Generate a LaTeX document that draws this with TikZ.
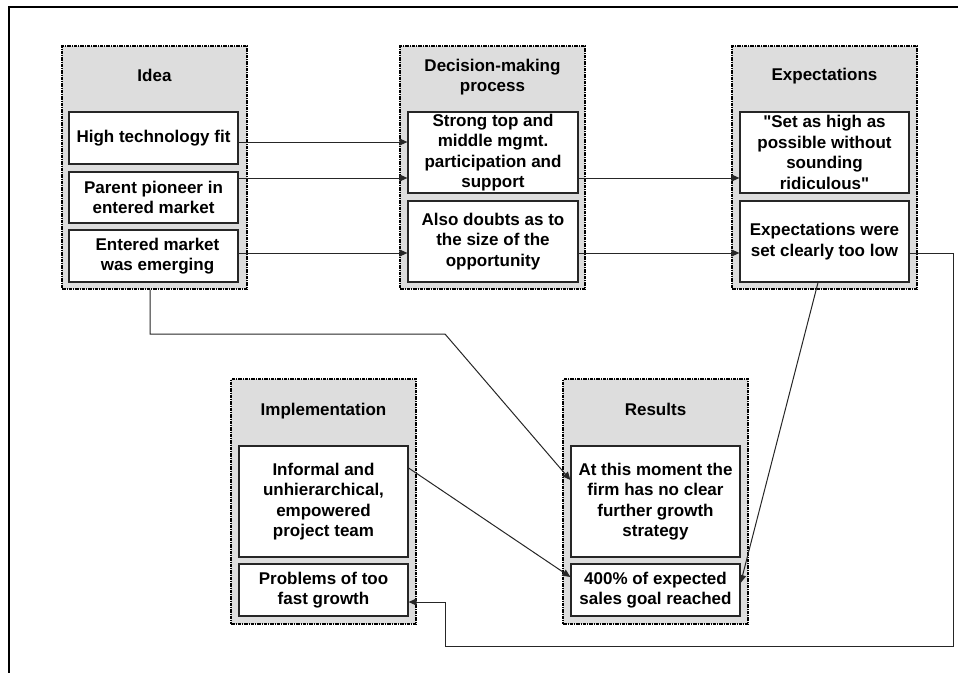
\documentclass[tikz,border=0pt]{standalone}
\usepackage{fontspec}
\setmainfont{Liberation Sans}[Ligatures=TeXOff]
\usetikzlibrary{arrows.meta}
\definecolor{panelgray}{HTML}{DDDDDD}
\definecolor{edgegray}{HTML}{262626}
\begin{document}
\begin{tikzpicture}[x=1pt,y=-1pt,
  panel/.style={draw=black, fill=panelgray, line width=1.3pt,
    dash pattern=on 3.5pt off 1pt on 1pt off 1pt,
    minimum width=185pt, inner sep=0pt},
  item/.style={draw=edgegray, fill=white, line width=1.2pt,
    minimum width=169pt, inner sep=0pt, align=center,
    font=\bfseries\fontsize{17}{20.5}\selectfont},
  hdr/.style={anchor=base, align=center, inner sep=0pt,
    font=\bfseries\fontsize{17}{20.5}\selectfont},
  conn/.style={draw=edgegray, line width=1pt},
  arr/.style={conn, -{Triangle[length=8pt,width=7pt]}}]

\useasboundingbox (0,0) rectangle (958,673);

% outer frame (top and left edges)
\draw[line width=2pt] (958,6.5) -- (9,6.5) -- (9,673);

% stage panels
\node[panel, minimum height=243pt] (idea) at (154.5,167.5) {};
\node[panel, minimum height=243pt] (dec)  at (492.5,167.5) {};
\node[panel, minimum height=243pt] (exp)  at (824.5,167.5) {};
\node[panel, minimum height=245pt] (impl) at (323.5,501.5) {};
\node[panel, minimum height=245pt] (res)  at (655.5,501.5) {};

% panel headings (base anchor sits on the last line)
\node[hdr] (ideah) at (154.5,81.5) {Idea};
\node[hdr] (dech)  at (492.5,91.5) {Decision-making\\process};
\node[hdr] (exph)  at (824.5,80.5) {Expectations};
\node[hdr] (implh) at (323.5,415) {Implementation};
\node[hdr] (resh)  at (655.5,415) {Results};

% Idea
\node[item, minimum height=52pt] (idea1) at (153.5,138) {High technology fit};
\node[item, minimum height=51pt] (idea2) at (153.5,197.5) {Parent pioneer in\\entered market};
\node[item, minimum height=52pt] (idea3) at (153.5,256) {\hspace*{8pt}Entered market\\\hspace*{8pt}was emerging};

% Decision-making process
\node[item, minimum width=170pt, minimum height=81pt] (dec1) at (493,152.5)
  {Strong top and\\middle mgmt.\\participation and\\support};
\node[item, minimum width=170pt, minimum height=81pt] (dec2) at (493,241.5)
  {Also doubts as to\\the size of the\\opportunity};

% Expectations
\node[item, minimum height=81pt] (exp1) at (824.5,152.5)
  {"Set as high as\\possible without\\sounding\\ridiculous"};
\node[item, minimum height=81pt] (exp2) at (824.5,241.5)
  {Expectations were\\set clearly too low};

% Implementation
\node[item, minimum height=111pt] (impl1) at (323.5,501.5)
  {Informal and\\unhierarchical,\\empowered\\project team};
\node[item, minimum height=52pt] (impl2) at (323.5,590)
  {Problems of too\\fast growth};

% Results
\node[item, minimum height=111pt] (res1) at (655.5,501.5)
  {At this moment the\\firm has no clear\\further growth\\strategy};
\node[item, minimum height=52pt] (res2) at (655.5,590)
  {400\% of expected\\sales goal reached};

% connectors between stages
\draw[arr] (idea1.east |- 0,142) -- (dec1.west |- 0,142);
\draw[arr] (idea2.east |- 0,178) -- (dec1.west |- 0,178);
\draw[arr] (idea3.east |- 0,253) -- (dec2.west |- 0,253);
\draw[arr] (dec1.east |- 0,178) -- (exp1.west |- 0,178);
\draw[arr] (dec2.east |- 0,253) -- (exp2.west |- 0,253);

\coordinate (b1) at (150,334);
\coordinate (b2) at (445,334);
\draw[arr] (idea.south -| 150,0) -- (b1) -- (b2) -- (res1.west |- 0,480);

\draw[arr] (exp2.south -| 818,0) -- (res2.east |- 0,583);
\draw[arr] (impl1.east |- 0,468) -- (res2.west |- 0,577);

\coordinate (r1) at (953,253);
\coordinate (r2) at (953,646);
\coordinate (r3) at (445,646);
\coordinate (r4) at (445,602);
\draw[arr] (exp2.east |- 0,253) -- (r1) -- (r2) -- (r3) -- (r4) -- (impl2.east |- 0,602);

\end{tikzpicture}
\end{document}
